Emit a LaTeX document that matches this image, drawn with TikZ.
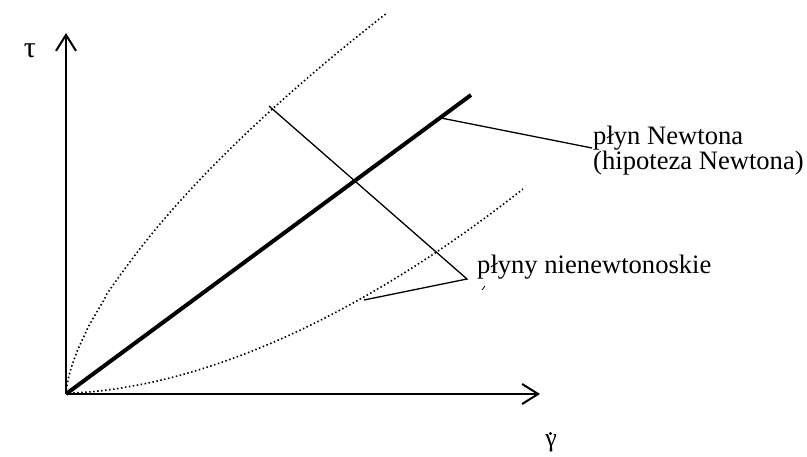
\documentclass[tikz,border=0pt]{standalone}
\usepackage{fontspec}
\setmainfont{Liberation Serif}
\usetikzlibrary{arrows.meta}
\begin{document}
\begin{tikzpicture}[x=1pt,y=-1pt,
  axis/.style={line width=2pt,-{Straight Barb[length=16pt,width=20pt,line width=2pt]}},
  dotcurve/.style={line width=1.6pt,dash pattern=on 1.5pt off 2.5pt},
  thick line/.style={line width=4pt},
  pointer/.style={line width=1.3pt},
  lbl/.style={inner sep=0pt,anchor=base west,font=\fontsize{26.6}{25}\selectfont},
  sym/.style={inner sep=0pt,font=\fontsize{30}{32}\selectfont}]
\useasboundingbox (0,0) rectangle (807,457);
% points
\coordinate (O) at (66,394);
\coordinate (ytip) at (66,33);
\coordinate (xtip) at (540,394);
\coordinate (nend) at (471,95);
\coordinate (up) at (269,106);
\coordinate (lo) at (364,300);
\coordinate (vx) at (467,279);
\coordinate (nstart) at (441,118);
\coordinate (nlab) at (592,148);
% axes
\draw[axis] (O) -- (ytip);
\draw[axis] (O) -- (xtip);
% curves
\draw[dotcurve] (O) -- plot[domain=0.3:321,samples=120] ({66+\x},{393-380*(\x/321)^0.66});
\draw[dotcurve] (O) -- plot[domain=0.3:457,samples=120] ({66+\x},{393-204*(\x/457)^1.76});
% Newton line
\draw[thick line] (O) -- (nend);
% pointers
\draw[pointer] (up) -- (vx) -- (lo);
\draw[pointer] (nstart) -- (nlab);
\draw[line width=0.8pt] (482,290) -- (485,286);
% labels
\node[lbl] (newton1) at (593,145) {płyn Newtona};
\node[lbl] (newton2) at (593,170) {(hipoteza Newtona)};
\node[lbl] (nonnewton) at (477,274) {płyny nienewtonoskie};
\node[sym] (tau) at (30,51) {τ};
\node[sym,font=\fontsize{26}{28}\selectfont] (gam) at (551,443) {γ};
\fill (550.5,433.5) circle (1.7pt);
\end{tikzpicture}
\end{document}
